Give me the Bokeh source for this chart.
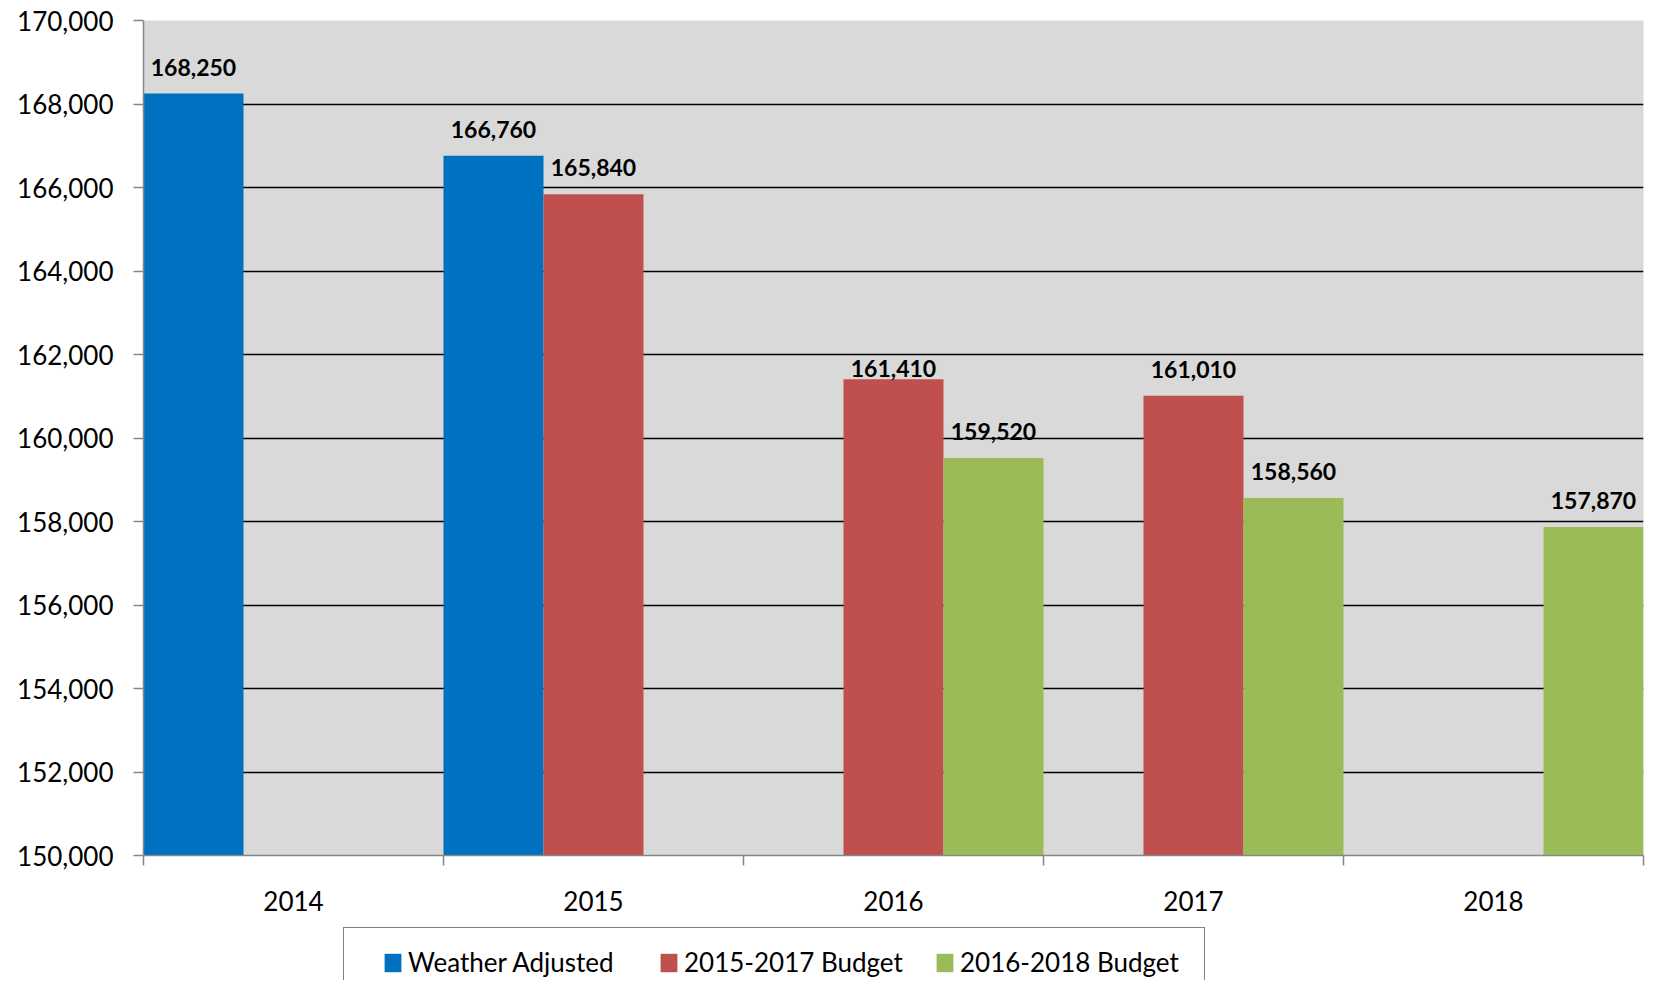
from bokeh.plotting import figure
from bokeh.layouts import column
from bokeh.models import (ColumnDataSource, FixedTicker, NumeralTickFormatter,
                          Legend, LegendItem, LabelSet, Range1d)
from bokeh.core.properties import value
from bokeh.embed import file_html
from bokeh.resources import INLINE

# ---------------- data ----------------
years = ["2014", "2015", "2016", "2017", "2018"]
series_names = ["Weather Adjusted", "2015-2017 Budget", "2016-2018 Budget"]
weather_adjusted = [168250, 166760, None, None, None]
budget_2015_2017 = [None, 165840, 161410, 161010, None]
budget_2016_2018 = [None, None, 159520, 158560, 157870]
y_ticks = [150000, 152000, 154000, 156000, 158000, 160000, 162000, 164000,
           166000, 168000, 170000]

# ---------------- style ----------------
colors = ["#0070C0", "#C0504D", "#9BBB59"]
FONT = "Lato"
label_gap = 18
label_gap_override = {("2015-2017 Budget", "2016"): 2}

series_values = [weather_adjusted, budget_2015_2017, budget_2016_2018]
n_series = len(series_names)

W = 1653
LEFT = 143
p = figure(width=W, height=920, output_backend="svg", toolbar_location=None,
           x_range=Range1d(0, len(years)), y_range=Range1d(y_ticks[0], y_ticks[-1]),
           min_border_left=LEFT, min_border_right=10, min_border_top=20,
           min_border_bottom=65)
p.background_fill_color = "#D9D9D9"
p.border_fill_color = "white"
p.outline_line_color = None

for k, (name, vals) in enumerate(zip(series_names, series_values)):
    xs, tops, texts, offs = [], [], [], []
    for i, (yr, v) in enumerate(zip(years, vals)):
        if v is None:
            continue
        xs.append(i + (k + 0.5) / n_series)
        tops.append(v)
        texts.append(f"{v:,}")
        offs.append(label_gap_override.get((name, yr), label_gap))
    src = ColumnDataSource(dict(x=xs, top=tops, text=texts, off=offs))
    p.vbar(x="x", top="top", bottom=y_ticks[0], width=1 / n_series,
           source=src, fill_color=colors[k], line_color=None)
    labels = LabelSet(x="x", y="top", text="text", source=src, y_offset="off",
                      text_align="center", text_baseline="alphabetic",
                      text_font=value(FONT), text_font_style="bold",
                      text_font_size="23px", text_color="black")
    p.add_layout(labels)

# y axis
p.yaxis.ticker = FixedTicker(ticks=y_ticks)
p.yaxis.formatter = NumeralTickFormatter(format="0,0")
p.yaxis.major_label_text_font = FONT
p.yaxis.major_label_text_font_size = "26px"
p.yaxis.major_label_text_color = "black"
p.yaxis.axis_line_color = "#868686"
p.yaxis.axis_line_width = 1.5
p.yaxis.major_tick_line_color = "#868686"
p.yaxis.major_tick_line_width = 1.5
p.yaxis.major_tick_out = 10
p.yaxis.major_tick_in = 0
p.yaxis.minor_tick_line_color = None
p.yaxis.major_label_standoff = 20

# x axis: labels at category centres, ticks at category boundaries
centres = [i + 0.5 for i in range(len(years))]
bounds = [i for i in range(len(years) + 1)]
p.xaxis.ticker = FixedTicker(ticks=centres, minor_ticks=bounds)
p.xaxis.major_label_overrides = {c: y for c, y in zip(centres, years)}
p.xaxis.major_label_text_font = FONT
p.xaxis.major_label_text_font_size = "26px"
p.xaxis.major_label_text_color = "black"
p.xaxis.axis_line_color = "#868686"
p.xaxis.axis_line_width = 1.5
p.xaxis.major_tick_line_color = None
p.xaxis.major_tick_out = 0
p.xaxis.major_tick_in = 0
p.xaxis.minor_tick_line_color = "#868686"
p.xaxis.minor_tick_line_width = 1.5
p.xaxis.minor_tick_out = 10
p.xaxis.minor_tick_in = 0
p.xaxis.major_label_standoff = 25

p.xgrid.grid_line_color = None
p.ygrid.grid_line_color = "black"
p.ygrid.grid_line_width = 1.5

# ---------------- legend strip ----------------
H2 = 60
q = figure(width=W, height=H2, output_backend="svg", toolbar_location=None,
           x_range=Range1d(0, W), y_range=Range1d(0, H2),
           x_axis_type=None, y_axis_type=None,
           min_border_left=0, min_border_right=0, min_border_top=0,
           min_border_bottom=0)
q.outline_line_color = None
q.background_fill_color = "white"
q.border_fill_color = "white"
q.xgrid.grid_line_color = None
q.ygrid.grid_line_color = None

dummy = q.scatter(x=[-1000], y=[-1000], fill_alpha=0, line_alpha=0)
box = Legend(items=[LegendItem(label=" ", renderers=[dummy])],
             location=(343 - LEFT, -29), padding=0, margin=0, spacing=0,
             glyph_width=1, glyph_height=1, label_standoff=0,
             label_width=859, label_height=80,
             border_line_color="black", border_line_width=1.5,
             background_fill_color="white", background_fill_alpha=1)
q.add_layout(box)

swatches = [q.vbar(x=[-1000], top=[-1000], width=1, fill_color=c, line_color=None)
            for c in colors]
items = [LegendItem(label=n, renderers=[r]) for n, r in zip(series_names, swatches)]
leg = Legend(items=items, location=(382 - LEFT, 2), orientation="horizontal",
             padding=0, margin=0, spacing=30, glyph_width=21, glyph_height=23,
             label_standoff=5, label_width=220,
             label_text_font=FONT, label_text_font_size="26px",
             label_text_color="black",
             border_line_alpha=0, background_fill_alpha=0)
q.add_layout(leg)

layout = column(p, q, spacing=0)
open("out.html", "w").write(file_html(layout, INLINE))
